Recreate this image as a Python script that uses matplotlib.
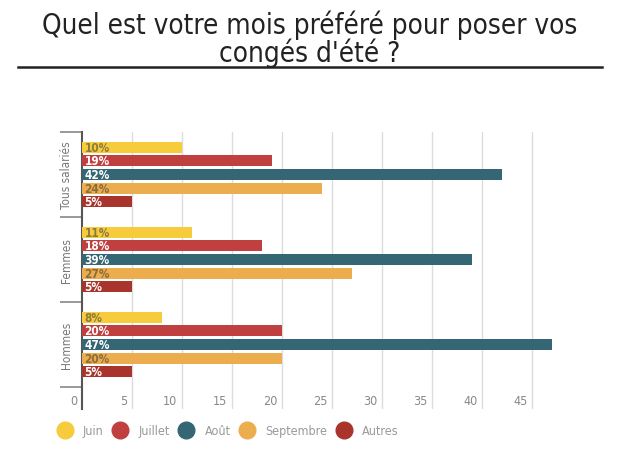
import numpy as np
import matplotlib.pyplot as plt
from matplotlib.lines import Line2D

groupes = ['Tous salariés', 'Femmes', 'Hommes']
mois = ['Juin', 'Juillet', 'Août', 'Septembre', 'Autres']
valeurs = {
    'Juin': [10, 11, 8],
    'Juillet': [19, 18, 20],
    'Août': [42, 39, 47],
    'Septembre': [24, 27, 20],
    'Autres': [5, 5, 5],
}
couleurs = ['#f6cb3c', '#c0403f', '#346673', '#ebad4d', '#a8342c']
couleurs_txt = ['#8c7c3c', 'white', 'white', '#8c6c3c', 'white']
xticks = [0, 5, 10, 15, 20, 25, 30, 35, 40, 45]

plt.rcParams['font.family'] = ['DejaVu Sans']
plt.rcParams['font.stretch'] = 'condensed'

fig = plt.figure(figsize=(6.2, 4.6), dpi=100)
W, H = 620, 460
ax = fig.add_axes([82 / W, 1 - 410 / H, 480 / W, (410 - 133) / H])

y_grp = np.arange(len(groupes))
decal = np.array([-0.32, -0.16, 0.0, 0.16, 0.32])
for i, m in enumerate(mois):
    ys = y_grp + decal[i]
    ax.barh(ys, valeurs[m], height=0.128, color=couleurs[i], zorder=3)
    for y, v in zip(ys, valeurs[m]):
        ax.text(0.25, y, f'{v}%', va='center', ha='left', fontsize=8.5,
                fontweight='bold', color=couleurs_txt[i], zorder=4)

ax.set_xlim(0, 48)
ax.set_ylim(2.5 + 22 / 85, -0.5)

# grille verticale
for t in xticks[1:]:
    ax.axvline(t, color='#dcdcdc', lw=1, zorder=1)
# étiquettes de l'axe x, à gauche des lignes
for t in xticks:
    ax.text(t - 0.45, 2.5 + 14 / 85, str(t), ha='right', va='center',
            fontsize=9, color='#888888')

ax.set_xticks([])
ax.set_yticks([-0.5, 0.5, 1.5, 2.5])
ax.set_yticklabels([])
ax.tick_params(axis='y', length=16, width=1.2, color='#888888', direction='out')
for i, g in enumerate(groupes):
    ax.text(-0.9, i, g, rotation=90, ha='right', va='center', fontsize=8.5,
            color='#777777')

for s in ['top', 'right', 'bottom']:
    ax.spines[s].set_visible(False)
ax.spines['left'].set_color('#555555')
ax.spines['left'].set_linewidth(1.5)

fig.text(0.5, 1 - 39 / H, "Quel est votre mois préféré pour poser vos\ncongés d'été ?",
         ha='center', va='center', fontsize=20, color='#222222', linespacing=0.95)
fig.add_artist(Line2D([18 / W, 602 / W], [1 - 68 / H, 1 - 68 / H],
                      color='#222222', lw=1.8, transform=fig.transFigure))

handles = [Line2D([], [], marker='o', ls='', markersize=12, color=c) for c in couleurs]
fig.legend(handles, mois, loc='center left', bbox_to_anchor=(47 / W, 1 - 432 / H),
           ncol=5, frameon=False, fontsize=9, labelcolor='#999999',
           handletextpad=0.98, columnspacing=0.8, handlelength=1.0)

fig.savefig('out.png', dpi=100)
